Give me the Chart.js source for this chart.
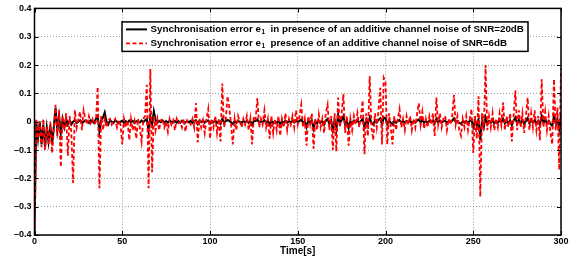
<!DOCTYPE html>
<html>
<head>
<meta charset="utf-8">
<script src="https://cdn.jsdelivr.net/npm/chart.js@4.4.1/dist/chart.umd.min.js"></script>
<style>
  html, body { margin: 0; padding: 0; background: #fff; }
  #wrap { width: 585px; height: 264px; }
</style>
</head>
<body>
<div id="wrap"><canvas id="my-chart" width="585" height="264"></canvas></div>
<script>
'use strict';

// **** Data (one value per second) ****

let legendLabels = [
  ['Synchronisation error e', '1', '  in presence of an additive channel noise of SNR=20dB'],
  ['Synchronisation error e', '1', '  presence of an additive channel noise of SNR=6dB']
];

let xTicks = [0, 50, 100, 150, 200, 250, 300];
let yTicks = [-0.4, -0.3, -0.2, -0.1, 0, 0.1, 0.2, 0.3, 0.4];

// SNR = 20dB (black, solid)
let errorSnr20 = [
  -0.40, 0.0, -0.06, 0.0, -0.08, -0.01, -0.09, -0.02, -0.07, -0.01,
  -0.08, -0.02, 0.05, -0.03, 0.02, -0.04, 0.01, -0.02, 0.01, -0.01,
  0.005, -0.01, 0.0, 0.005, -0.005, 0.0, 0.005, -0.005, 0.0, 0.005,
  0.0, -0.005, 0.005, 0.0, -0.005, 0.01, 0.02, -0.035, 0.005, 0.015,
  0.033, 0.0, -0.01, 0.005, 0.0, -0.005, 0.005, 0.0, -0.005, 0.0,
  0.003, -0.004, 0.002, -0.003, 0.004, -0.002, 0.003, -0.005, 0.002, 0.0,
  -0.003, 0.004, -0.002, 0.005, 0.01, -0.035, 0.02, -0.01, 0.037, 0.005,
  -0.004, 0.003, -0.002, 0.004, -0.003, 0.002, -0.004, 0.003, 0.0, -0.002,
  0.003, -0.003, 0.002, -0.004, 0.003, 0.0, -0.003, 0.002, -0.002, 0.003,
  -0.004, 0.003, 0.005, -0.008, 0.003, -0.002, 0.004, -0.003, 0.002, 0.004,
  -0.006, 0.003, -0.002, 0.004, -0.005, 0.003, -0.007, 0.01, -0.003, 0.002,
  0.006, 0.003, -0.002, -0.008, 0.003, -0.004, 0.002, 0.0, -0.003, 0.002,
  -0.002, 0.003, -0.004, 0.002, -0.012, 0.004, 0.002, 0.008, -0.003, 0.002,
  -0.002, 0.005, -0.003, 0.002, -0.01, 0.003, -0.006, 0.002, -0.004, 0.003,
  -0.008, 0.002, -0.003, 0.004, -0.004, 0.002, -0.002, 0.003, -0.003, 0.005,
  -0.002, 0.003, 0.008, -0.004, 0.002, -0.02, 0.004, -0.003, 0.005, -0.025,
  0.002, -0.006, 0.004, -0.004, 0.002, -0.01, 0.005, 0.01, -0.008, 0.004,
  -0.03, 0.006, -0.028, 0.025, -0.004, 0.005, 0.02, -0.01, 0.004, -0.022,
  0.002, -0.006, 0.004, -0.002, 0.005, -0.004, 0.003, 0.01, -0.02, 0.005,
  -0.008, 0.015, -0.004, -0.01, 0.005, -0.003, 0.006, 0.012, -0.01, 0.015,
  0.012, -0.01, 0.004, -0.003, -0.01, 0.003, -0.004, 0.002, 0.006, -0.003,
  0.002, -0.004, 0.003, -0.002, 0.003, -0.004, 0.002, -0.003, 0.004, 0.008,
  -0.002, 0.005, -0.004, 0.002, -0.003, 0.003, -0.002, 0.004, -0.007, 0.01,
  -0.002, 0.004, -0.003, 0.002, 0.003, -0.004, 0.002, -0.002, 0.003, 0.012,
  -0.002, 0.003, -0.004, -0.008, 0.002, -0.003, 0.003, -0.004, 0.002, 0.006,
  -0.02, 0.004, -0.015, 0.01, -0.065, 0.005, -0.02, 0.015, -0.006, 0.003,
  -0.004, 0.005, -0.006, 0.002, -0.004, 0.005, -0.002, 0.01, -0.006, 0.003,
  -0.004, 0.005, -0.012, 0.004, 0.015, -0.006, 0.006, -0.004, 0.005, -0.008,
  0.003, 0.012, -0.006, 0.005, -0.004, 0.006, -0.006, 0.003, -0.012, 0.02,
  -0.004, 0.006, -0.006, 0.003, -0.008, -0.015, 0.02, -0.006, 0.008, -0.03, 0.025
];

// SNR = 6dB (red, dashed)
let errorSnr6 = [
  -0.40, 0.01, -0.07, 0.0, -0.09, 0.01, -0.1, -0.02, -0.08, 0.0,
  -0.11, -0.03, 0.06, -0.05, 0.04, -0.16, 0.02, -0.03, 0.03, -0.12,
  0.02, -0.04, -0.216, 0.04, -0.02, 0.01, 0.035, -0.03, 0.04, 0.01,
  -0.01, 0.02, -0.005, 0.01, -0.01, 0.0, 0.123, -0.235, 0.02, -0.03,
  0.01, -0.02, 0.005, 0.01, -0.01, 0.0, 0.01, -0.02, 0.005, -0.01,
  -0.08, 0.01, -0.02, 0.005, -0.065, 0.01, -0.03, 0.0, -0.06, 0.01,
  -0.02, -0.07, 0.01, 0.02, 0.13, -0.235, 0.186, -0.178, 0.02, -0.03,
  0.01, -0.03, 0.005, 0.01, -0.02, 0.0, -0.035, 0.01, -0.01, 0.005,
  -0.03, 0.01, -0.005, 0.0, -0.02, 0.01, -0.035, 0.005, 0.0, -0.01,
  0.01, -0.02, 0.066, -0.073, 0.01, -0.02, 0.005, -0.04, 0.01, 0.045,
  -0.06, 0.01, -0.02, 0.02, -0.04, 0.01, -0.07, 0.135, -0.02, 0.01,
  0.09, 0.05, -0.01, -0.08, 0.01, -0.03, 0.02, 0.0, -0.02, 0.01,
  -0.01, 0.02, -0.03, 0.01, -0.08, 0.02, 0.01, 0.083, -0.02, 0.01,
  -0.01, 0.04, -0.02, 0.01, -0.06, 0.02, -0.04, 0.01, -0.03, 0.02,
  -0.05, 0.01, -0.02, 0.03, -0.03, 0.01, -0.01, 0.02, -0.02, 0.04,
  -0.01, 0.02, 0.06, -0.02, 0.01, -0.085, 0.02, -0.01, 0.03, -0.095,
  0.01, -0.03, 0.025, -0.02, 0.01, -0.04, 0.03, 0.06, -0.03, 0.02,
  -0.1, 0.03, -0.105, 0.085, -0.02, 0.03, 0.098, -0.04, 0.02, -0.085,
  0.01, -0.03, 0.02, -0.01, 0.03, -0.02, 0.02, 0.075, -0.115, 0.03,
  -0.05, 0.16, -0.02, -0.065, 0.03, -0.02, 0.04, 0.12, -0.08, 0.155,
  0.14, -0.08, 0.03, -0.02, -0.08, 0.02, -0.03, 0.01, 0.045, -0.02,
  0.01, -0.03, 0.02, -0.01, 0.02, -0.03, 0.01, -0.02, 0.03, 0.065,
  -0.01, 0.035, -0.025, 0.01, -0.02, 0.02, -0.01, 0.03, -0.05, 0.085,
  -0.01, 0.03, -0.02, 0.01, 0.02, -0.03, 0.01, -0.01, 0.02, 0.095,
  -0.01, 0.02, -0.03, -0.05, 0.01, -0.02, 0.02, -0.03, 0.01, 0.045,
  -0.11, 0.02, -0.06, 0.09, -0.265, 0.03, -0.03, 0.2, -0.03, 0.02,
  -0.02, 0.03, -0.03, 0.01, -0.02, 0.03, -0.01, 0.068, -0.03, 0.02,
  -0.02, 0.03, -0.07, 0.02, 0.11, -0.03, 0.04, -0.02, 0.03, -0.04,
  0.02, 0.085, -0.03, 0.03, -0.02, 0.04, -0.03, 0.02, -0.065, 0.15,
  -0.02, 0.035, -0.03, 0.02, -0.04, -0.08, 0.15, -0.03, 0.05, -0.17, 0.19
];

// **** Helpers ****

const FONT = '"Liberation Sans", Arial, Helvetica, sans-serif';

function toPoints(values) {
  return values.map((v, i) => ({ x: i, y: v }));
}

function fmtY(v) {
  let r = Math.round(v * 10) / 10;
  if (r === 0) return '0';
  return (r < 0 ? '\u2013' : '') + Math.abs(r).toFixed(1);
}

// **** Plugins ****

// MATLAB style box + inward ticks
let boxPlugin = {
  id: 'boxPlugin',
  afterDraw(chart) {
    let c = chart.ctx;
    let a = chart.chartArea;
    let xs = chart.scales.x;
    let ys = chart.scales.y;
    c.save();
    c.strokeStyle = '#000';
    c.lineWidth = 1.5;
    c.strokeRect(a.left, a.top, a.right - a.left, a.bottom - a.top);
    c.lineWidth = 1;
    c.beginPath();
    xTicks.forEach(t => {
      let px = Math.round(xs.getPixelForValue(t)) + 0.5;
      c.moveTo(px, a.bottom); c.lineTo(px, a.bottom - 4);
      c.moveTo(px, a.top); c.lineTo(px, a.top + 4);
    });
    yTicks.forEach(t => {
      let py = Math.round(ys.getPixelForValue(t)) + 0.5;
      c.moveTo(a.left, py); c.lineTo(a.left + 4, py);
      c.moveTo(a.right, py); c.lineTo(a.right - 4, py);
    });
    c.stroke();
    c.restore();
  }
};

// legend box inside the plot
let legendPlugin = {
  id: 'legendPlugin',
  afterDraw(chart) {
    let c = chart.ctx;
    let a = chart.chartArea;
    let left = a.left + 87.5;
    let top = a.top + 13.5;
    let w = 406;
    let h = 29.5;
    c.save();
    c.fillStyle = '#fff';
    c.fillRect(left, top, w, h);
    c.strokeStyle = '#000';
    c.lineWidth = 1.5;
    c.strokeRect(left, top, w, h);

    // pick a font size so the longest entry fills the box like the original
    let first = legendLabels[0];
    c.font = 'bold 10px ' + FONT;
    let base = c.measureText(first[0] + first[2]).width;
    let size = 10 * 370 / base;

    let order = [1, 0];
    order.forEach((di, row) => {
      let ds = chart.data.datasets[di];
      let cy = top + 7.5 + row * 14;
      c.beginPath();
      c.strokeStyle = ds.borderColor;
      c.lineWidth = ds.borderWidth;
      c.setLineDash(ds.borderDash || []);
      c.moveTo(left + 4, cy);
      c.lineTo(left + 25, cy);
      c.stroke();
      c.setLineDash([]);

      let parts = legendLabels[row];
      let x = left + 28.5;
      c.fillStyle = '#000';
      c.textBaseline = 'middle';
      c.font = 'bold ' + size + 'px ' + FONT;
      c.fillText(parts[0], x, cy);
      x += c.measureText(parts[0]).width;
      c.font = 'bold ' + (size * 0.65) + 'px ' + FONT;
      c.fillText(parts[1], x + 0.5, cy + 3);
      x += c.measureText(parts[1]).width + 0.5;
      c.font = 'bold ' + size + 'px ' + FONT;
      c.fillText(parts[2], x, cy);
    });
    c.restore();
  }
};

// **** Chart ****

let ctx = document.getElementById('my-chart').getContext('2d');

let myChartObj = {
  type: 'line',
  data: {
    datasets: [
      {
        label: 'SNR=6dB',
        data: toPoints(errorSnr6),
        borderColor: '#ff0000',
        borderWidth: 1.8,
        borderDash: [4, 2.5],
        pointRadius: 0,
        tension: 0,
        fill: false
      },
      {
        label: 'SNR=20dB',
        data: toPoints(errorSnr20),
        borderColor: '#000000',
        borderWidth: 2,
        pointRadius: 0,
        tension: 0,
        fill: false
      }
    ]
  },
  options: {
    responsive: false,
    animation: false,
    events: [],
    layout: { padding: { left: 0, top: 7, right: 24, bottom: 7 } },
    plugins: {
      legend: { display: false },
      tooltip: { enabled: false }
    },
    scales: {
      x: {
        type: 'linear',
        min: 0,
        max: 300,
        afterBuildTicks: s => { s.ticks = xTicks.map(v => ({ value: v })); },
        afterFit: s => { s.height = 22; },
        ticks: {
          color: '#000',
          padding: 1,
          maxRotation: 0,
          font: { family: FONT, size: 9, weight: 'bold' }
        },
        grid: {
          color: '#9a9a9a',
          lineWidth: 1,
          drawTicks: false,
          tickLength: 0
        },
        border: { display: false, dash: [1, 2] },
        title: {
          display: true,
          text: 'Time[s]',
          color: '#000',
          padding: { top: 0, bottom: 0 },
          font: { family: FONT, size: 10, weight: 'bold' }
        }
      },
      y: {
        min: -0.4,
        max: 0.4,
        afterBuildTicks: s => { s.ticks = yTicks.map(v => ({ value: v })); },
        afterFit: s => { s.width = 34.5; },
        ticks: {
          color: '#000',
          padding: 3,
          callback: v => fmtY(v),
          font: { family: FONT, size: 9, weight: 'bold' }
        },
        grid: {
          color: '#9a9a9a',
          lineWidth: 1,
          drawTicks: false,
          tickLength: 0
        },
        border: { display: false, dash: [1, 2] }
      }
    }
  },
  plugins: [boxPlugin, legendPlugin]
};

new Chart(ctx, myChartObj);
</script>
</body>
</html>
